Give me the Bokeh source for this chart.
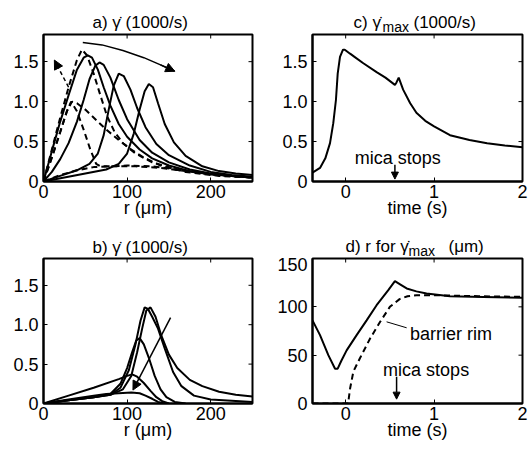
from bokeh.plotting import figure
from bokeh.models import Range1d, FixedTicker, Arrow, NormalHead
from bokeh.layouts import column, row
from bokeh.core.properties import value
from bokeh.embed import file_html
from bokeh.resources import INLINE

FONT = "Liberation Sans"
FS = "17px"
TS = "18px"

# ---------------- panel a: shear-rate profiles (1000/s) vs r (um) -------------
a_s1_r = [0, 10, 20, 30, 40, 48, 53, 58, 65, 72, 80, 90, 100, 115, 130, 150, 175, 200, 225, 250]
a_s1_g = [0, 0.38, 0.75, 1.08, 1.40, 1.55, 1.58, 1.55, 1.40, 1.18, 0.95, 0.72, 0.56, 0.40, 0.29, 0.20, 0.13, 0.09, 0.07, 0.05]
a_s2_r = [0, 10, 20, 30, 40, 48, 55, 62, 67, 72, 80, 90, 100, 115, 130, 150, 175, 200, 225, 250]
a_s2_g = [0, 0.12, 0.28, 0.48, 0.75, 1.02, 1.28, 1.45, 1.49, 1.46, 1.30, 1.02, 0.78, 0.52, 0.36, 0.24, 0.15, 0.10, 0.07, 0.05]
a_s3_r = [0, 20, 40, 55, 65, 72, 78, 84, 90, 96, 104, 112, 122, 135, 150, 175, 200, 225, 250]
a_s3_g = [0, 0.07, 0.14, 0.22, 0.35, 0.58, 0.90, 1.20, 1.35, 1.32, 1.15, 0.92, 0.68, 0.47, 0.33, 0.20, 0.12, 0.08, 0.06]
a_s4_r = [0, 25, 50, 75, 90, 100, 108, 115, 121, 126, 131, 137, 145, 156, 170, 190, 210, 230, 250]
a_s4_g = [0, 0.05, 0.10, 0.15, 0.22, 0.35, 0.60, 0.90, 1.13, 1.22, 1.18, 0.98, 0.72, 0.49, 0.32, 0.19, 0.13, 0.10, 0.08]
a_d1_r = [0, 10, 20, 30, 40, 46, 52, 60, 68, 76, 85, 95, 110, 130, 160, 200, 250]
a_d1_g = [0, 0.40, 0.80, 1.18, 1.52, 1.65, 1.58, 1.35, 1.08, 0.82, 0.62, 0.48, 0.35, 0.24, 0.15, 0.09, 0.05]
a_d2_r = [0, 10, 20, 28, 34, 40, 50, 62, 75, 90, 105, 120, 140, 170, 210, 250]
a_d2_g = [0, 0.30, 0.62, 0.88, 1.00, 0.98, 0.90, 0.78, 0.65, 0.52, 0.40, 0.30, 0.20, 0.12, 0.07, 0.05]
a_d3_r = [0, 10, 20, 28, 33, 40, 48, 56, 63, 68, 80, 100, 130, 160, 200, 250]
a_d3_g = [0, 0.30, 0.62, 0.88, 1.00, 0.88, 0.65, 0.40, 0.22, 0.19, 0.19, 0.20, 0.19, 0.15, 0.09, 0.05]
a_d4_r = [0, 20, 40, 60, 80, 110, 140, 170, 200, 250]
a_d4_g = [0, 0.08, 0.14, 0.18, 0.19, 0.19, 0.17, 0.13, 0.09, 0.05]
a_arc_r = [47, 70, 95, 120, 140, 157]
a_arc_g = [1.74, 1.71, 1.64, 1.55, 1.46, 1.38]
a_darrow = [30, 1.18, 13, 1.52]

# ---------------- panel b -------------------------------------------------------
b1_r = [0, 30, 60, 80, 95, 105, 112, 118, 123, 128, 134, 141, 150, 160, 175, 190, 210, 230, 250]
b1_g = [0, 0.04, 0.08, 0.11, 0.18, 0.35, 0.65, 0.95, 1.18, 1.22, 1.10, 0.86, 0.62, 0.45, 0.30, 0.22, 0.15, 0.11, 0.09]
b2_r = [0, 30, 60, 80, 92, 102, 110, 116, 121, 125, 130, 137, 145, 155, 165, 180, 200, 250]
b2_g = [0, 0.04, 0.08, 0.11, 0.20, 0.42, 0.75, 1.05, 1.22, 1.20, 1.10, 0.95, 0.70, 0.40, 0.22, 0.10, 0.05, 0.02]
b3_r = [0, 30, 60, 80, 92, 100, 106, 111, 115, 120, 126, 133, 140, 147, 157, 170]
b3_g = [0, 0.04, 0.08, 0.12, 0.25, 0.45, 0.65, 0.80, 0.83, 0.75, 0.58, 0.35, 0.18, 0.08, 0.02, 0.0]
b4_r = [0, 30, 60, 90, 100, 106, 112, 120, 128, 135, 142, 150]
b4_g = [0, 0.10, 0.20, 0.31, 0.35, 0.37, 0.34, 0.26, 0.16, 0.08, 0.03, 0.0]
b5_r = [0, 30, 60, 75, 90, 105, 115, 122, 130, 137, 145]
b5_g = [0, 0.05, 0.10, 0.12, 0.13, 0.14, 0.13, 0.10, 0.06, 0.02, 0.0]
b_arrow = [152, 1.09, 107, 0.17]

# ---------------- panel c: max shear rate vs time -------------------------------
c_t = [-0.375, -0.29, -0.23, -0.177, -0.14, -0.11, -0.09, -0.064, -0.03, -0.01, 0.05, 0.10,
       0.20, 0.35, 0.45, 0.557, 0.575, 0.60, 0.65, 0.73, 0.80, 0.90, 1.0, 1.18, 1.4, 1.6, 1.8, 2.0]
c_g = [0.11, 0.17, 0.29, 0.48, 0.73, 1.02, 1.35, 1.56, 1.65, 1.65, 1.60, 1.56,
       1.48, 1.37, 1.30, 1.21, 1.24, 1.30, 1.15, 0.98, 0.86, 0.76, 0.69, 0.58, 0.52, 0.48, 0.45, 0.43]

# ---------------- panel d: r at max shear vs time -------------------------------
d_t = [-0.375, -0.29, -0.196, -0.12, -0.09, -0.05, 0.011, 0.124, 0.237, 0.35, 0.48, 0.557,
       0.62, 0.69, 0.8, 0.915, 1.18, 1.555, 2.0]
d_r = [86, 70.7, 50, 36, 36, 44, 55, 70.7, 86, 101.7, 117, 126.6,
       123, 119, 116, 113.8, 111, 110.3, 109.3]
rim_t = [-0.375, 0.03, 0.035, 0.05, 0.087, 0.16, 0.275, 0.39, 0.50, 0.61, 0.7, 0.8, 1.0, 1.5, 2.0]
rim_r = [0, 0, 5, 15.5, 33, 46.6, 67, 84.5, 100, 108, 111, 112, 112, 111, 110.3]

r_ticks = [0, 100, 200]
t_ticks = [0, 1, 2]
g_ticks = [0, 0.5, 1.0, 1.5]
g_tick_labels = {0: "0", 0.5: "0.5", 1: "1.0", 1.5: "1.5"}
d_ticks = [0, 50, 100, 150]

# title pieces: (text, font size, x px, baseline px) inside each title strip
title_a = [("a) γ\u0307 (1000/s)", FS, 92, 22)]
title_b = [("b) γ\u0307 (1000/s)", FS, 92, 22)]
title_c = [("c) γ\u0307", FS, 87, 22), ("max", "14px", 116, 26), ("(1000/s)", FS, 147, 22)]
title_d = [("d) r for γ\u0307", FS, 79, 21), ("max", "14px", 142, 25), ("(μm)", FS, 182, 21)]


def title_fig(w, h, pieces):
    t = figure(width=w, height=h, x_range=Range1d(0, w), y_range=Range1d(h, 0),
               output_backend="svg", toolbar_location=None,
               x_axis_location=None, y_axis_location=None,
               min_border_left=0, min_border_right=0, min_border_top=0, min_border_bottom=0)
    t.grid.visible = False
    t.outline_line_color = None
    for txt, size, x, y in pieces:
        t.text(x=[x], y=[y], text=[txt], text_font=value(FONT), text_font_size=size,
               text_align="left", text_baseline="alphabetic", text_color="black")
    return t


def make_fig(w, h, bl, br, bt, bb, xr, yr, xt, yt, xlabel, fw, fh, ylab_over=None):
    p = figure(width=w, height=h, x_range=Range1d(*xr), y_range=Range1d(*yr),
               output_backend="svg", toolbar_location=None,
               min_border_left=bl, min_border_right=br, min_border_top=bt, min_border_bottom=bb)
    p.grid.visible = False
    p.outline_line_color = "black"
    p.outline_line_width = 2
    p.outline_line_alpha = 1
    p.background_fill_color = "white"
    p.border_fill_color = "white"
    for ax, ticks in ((p.xaxis[0], xt), (p.yaxis[0], yt)):
        ax.ticker = FixedTicker(ticks=ticks)
        ax.major_tick_in = 4
        ax.major_tick_out = 0
        ax.major_tick_line_color = "black"
        ax.minor_tick_line_color = None
        ax.axis_line_color = "black"
        ax.axis_line_width = 2
        ax.major_label_text_font = FONT
        ax.major_label_text_font_size = TS
        ax.major_label_text_color = "black"
    p.yaxis[0].major_label_standoff = 5
    p.xaxis[0].major_label_standoff = 3
    if ylab_over:
        p.yaxis[0].major_label_overrides = ylab_over
    p.xaxis[0].axis_label = xlabel
    p.xaxis[0].axis_label_text_font = FONT
    p.xaxis[0].axis_label_text_font_size = TS
    p.xaxis[0].axis_label_text_font_style = "normal"
    p.xaxis[0].axis_label_text_color = "black"
    p.xaxis[0].axis_label_standoff = -3
    # mirrored inward ticks on the top and right edges
    ly = 4 * (yr[1] - yr[0]) / fh
    lx = 4 * (xr[1] - xr[0]) / fw
    xin = [v for v in xt if xr[0] < v < xr[1]]
    yin = [v for v in yt if yr[0] < v < yr[1]]
    p.segment(x0=xin, y0=[yr[1]] * len(xin), x1=xin, y1=[yr[1] - ly] * len(xin),
              line_color="black", line_width=1)
    p.segment(x0=[xr[1]] * len(yin), y0=yin, x1=[xr[1] - lx] * len(yin), y1=yin,
              line_color="black", line_width=1)
    return p


ta = title_fig(266, 33, title_a)
tc = title_fig(266, 33, title_c)
tb = title_fig(266, 32, title_b)
td = title_fig(266, 32, title_d)

pa = make_fig(266, 192, 43, 14, 1, 44, (0, 250), (0, 1.84), r_ticks, g_ticks, "r (μm)", 209, 147, g_tick_labels)
pc = make_fig(266, 192, 46, 10, 1, 43, (-0.375, 2), (0, 1.84), t_ticks, g_ticks, "time (s)", 210, 148, g_tick_labels)
pb = make_fig(266, 192, 43, 14, 1, 46, (0, 250), (0, 1.84), r_ticks, g_ticks, "r (μm)", 209, 145, g_tick_labels)
pd = make_fig(266, 192, 46, 10, 1, 46, (-0.375, 2), (0, 150), t_ticks, d_ticks, "time (s)", 210, 145)

LW = 2
DASH = "6 4"

# panel a curves
for xs, ys in ((a_s1_r, a_s1_g), (a_s2_r, a_s2_g), (a_s3_r, a_s3_g), (a_s4_r, a_s4_g)):
    pa.line(xs, ys, line_color="black", line_width=LW)
for xs, ys in ((a_d1_r, a_d1_g), (a_d2_r, a_d2_g), (a_d3_r, a_d3_g), (a_d4_r, a_d4_g)):
    pa.line(xs, ys, line_color="black", line_width=LW, line_dash=DASH)
pa.line(a_arc_r, a_arc_g, line_color="black", line_width=1.5)
pa.add_layout(Arrow(end=NormalHead(size=9, fill_color="black", line_color="black"),
                    x_start=a_arc_r[-2], y_start=a_arc_g[-2], x_end=a_arc_r[-1], y_end=a_arc_g[-1],
                    line_color="black", line_width=1.5))
pa.add_layout(Arrow(end=NormalHead(size=9, fill_color="black", line_color="black"),
                    x_start=a_darrow[0], y_start=a_darrow[1], x_end=a_darrow[2], y_end=a_darrow[3],
                    line_color="black", line_width=1.5, line_dash="4 3"))

# panel b curves
for xs, ys in ((b1_r, b1_g), (b2_r, b2_g), (b3_r, b3_g), (b4_r, b4_g), (b5_r, b5_g)):
    pb.line(xs, ys, line_color="black", line_width=LW)
pb.add_layout(Arrow(end=NormalHead(size=9, fill_color="black", line_color="black"),
                    x_start=b_arrow[0], y_start=b_arrow[1], x_end=b_arrow[2], y_end=b_arrow[3],
                    line_color="black", line_width=1.5))

# panel c
pc.line(c_t, c_g, line_color="black", line_width=LW)
pc.text(x=[0.59], y=[0.30], text=["mica stops"], text_font=value(FONT), text_font_size=TS,
        text_align="center", text_baseline="alphabetic", text_color="black")
pc.add_layout(Arrow(end=NormalHead(size=7, fill_color="black", line_color="black"),
                    x_start=0.557, y_start=0.21, x_end=0.557, y_end=0.03,
                    line_color="black", line_width=1.5))

# panel d
pd.line(d_t, d_r, line_color="black", line_width=LW)
pd.line(rim_t, rim_r, line_color="black", line_width=LW, line_dash=DASH)
pd.line([0.463, 0.69], [84.5, 78.3], line_color="black", line_width=1)
pd.text(x=[0.727], y=[72.4], text=["barrier rim"], text_font=value(FONT), text_font_size=TS,
        text_align="left", text_baseline="alphabetic", text_color="black")
pd.text(x=[0.91], y=[35], text=["mica stops"], text_font=value(FONT), text_font_size=TS,
        text_align="center", text_baseline="alphabetic", text_color="black")
pd.add_layout(Arrow(end=NormalHead(size=7, fill_color="black", line_color="black"),
                    x_start=0.576, y_start=27.6, x_end=0.576, y_end=4.5,
                    line_color="black", line_width=1.5))

layout = column(row(ta, tc), row(pa, pc), row(tb, td), row(pb, pd))
open("out.html", "w").write(file_html(layout, INLINE))
